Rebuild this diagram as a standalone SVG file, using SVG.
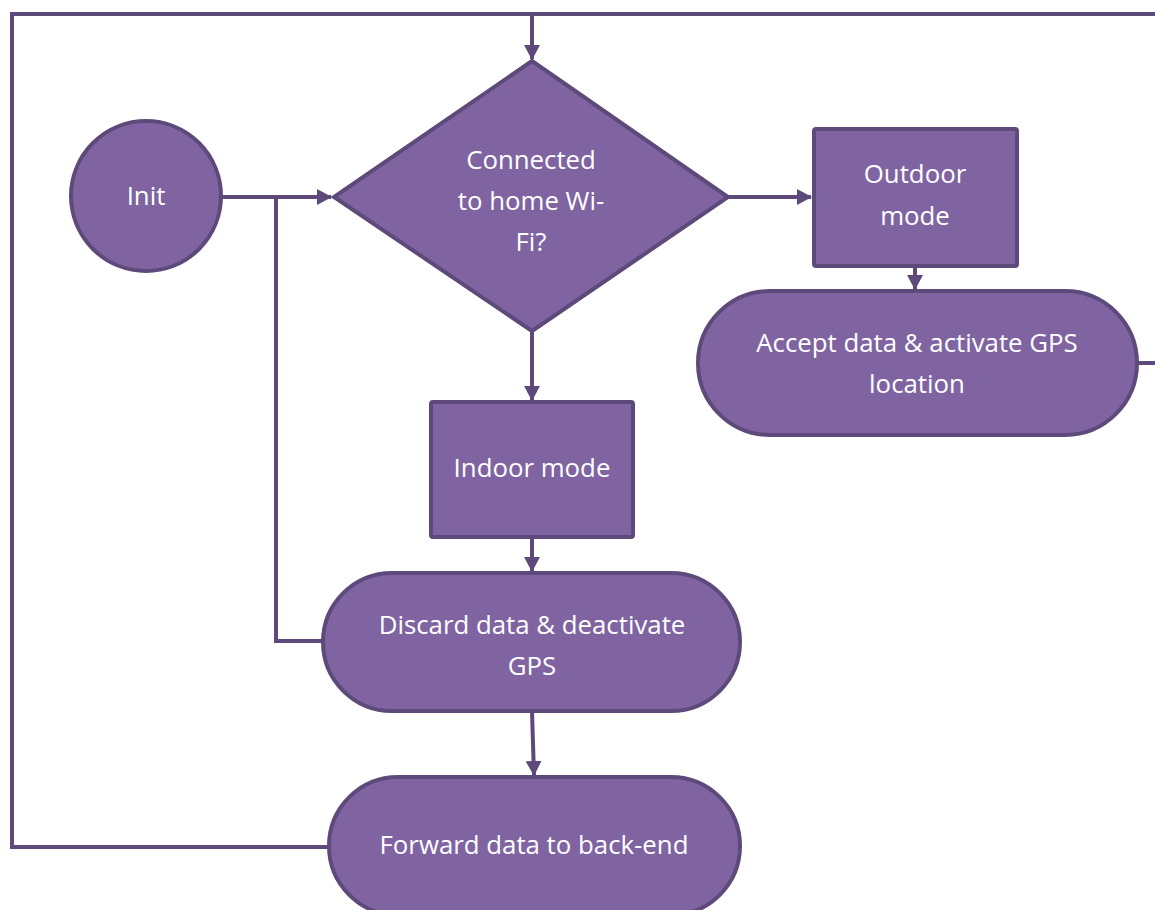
<svg xmlns="http://www.w3.org/2000/svg" width="1155" height="910" viewBox="0 0 1155 910">
<style>
.n{fill:#8064A2;stroke:#5E4A7A;stroke-width:4;}
.c{fill:none;stroke:#5E4A7A;stroke-width:4;}
.t{font-family:"Open Sans","Liberation Sans",sans-serif;font-size:25.8px;fill:#FFFFFF;text-anchor:middle;}
</style>
<defs>
<marker id="a" markerUnits="userSpaceOnUse" markerWidth="16" markerHeight="16" refX="14" refY="8" orient="auto">
<path d="M0,0 L15,8 L0,16 Z" fill="#5E4A7A"/>
</marker>
</defs>
<rect width="1155" height="910" fill="#FFFFFF"/>
<g id="connectors">
<polyline class="c" points="328,847 12,847 12,14 1155,14"/>
<line class="c" x1="532" y1="14" x2="532" y2="59" marker-end="url(#a)"/>
<line class="c" x1="222" y1="197" x2="331" y2="197" marker-end="url(#a)"/>
<polyline class="c" points="323,641 276,641 276,197"/>
<line class="c" x1="728" y1="197" x2="811" y2="197" marker-end="url(#a)"/>
<line class="c" x1="915" y1="266" x2="915" y2="289" marker-end="url(#a)"/>
<line class="c" x1="1137" y1="363" x2="1155" y2="363"/>
<line class="c" x1="532" y1="332" x2="532" y2="400" marker-end="url(#a)"/>
<line class="c" x1="532" y1="537" x2="532" y2="571" marker-end="url(#a)"/>
<line class="c" x1="532" y1="711" x2="534" y2="775" marker-end="url(#a)"/>
</g>
<g id="init">
<circle class="n" cx="146" cy="196" r="75"/>
<text class="t" x="146" y="205">Init</text>
</g>
<g id="decision">
<polygon class="n" points="532,61 728,197 532,331 334,197"/>
<text class="t" x="531" y="169">Connected</text>
<text class="t" x="531" y="210">to home Wi-</text>
<text class="t" x="531" y="251">Fi?</text>
</g>
<g id="outdoor">
<rect class="n" x="814" y="129" width="203" height="137" rx="2"/>
<text class="t" x="915" y="183">Outdoor</text>
<text class="t" x="915" y="225">mode</text>
</g>
<g id="accept">
<rect class="n" x="698" y="291" width="439" height="144" rx="72"/>
<text class="t" x="917" y="352">Accept data &amp; activate GPS</text>
<text class="t" x="917" y="393">location</text>
</g>
<g id="indoor">
<rect class="n" x="431" y="402" width="202" height="135" rx="2"/>
<text class="t" x="532" y="477">Indoor mode</text>
</g>
<g id="discard">
<rect class="n" x="323" y="573" width="417" height="138" rx="69"/>
<text class="t" x="532" y="634">Discard data &amp; deactivate</text>
<text class="t" x="532" y="675">GPS</text>
</g>
<g id="forward">
<rect class="n" x="329" y="777" width="411" height="138" rx="69"/>
<text class="t" x="534" y="854">Forward data to back-end</text>
</g>
</svg>
